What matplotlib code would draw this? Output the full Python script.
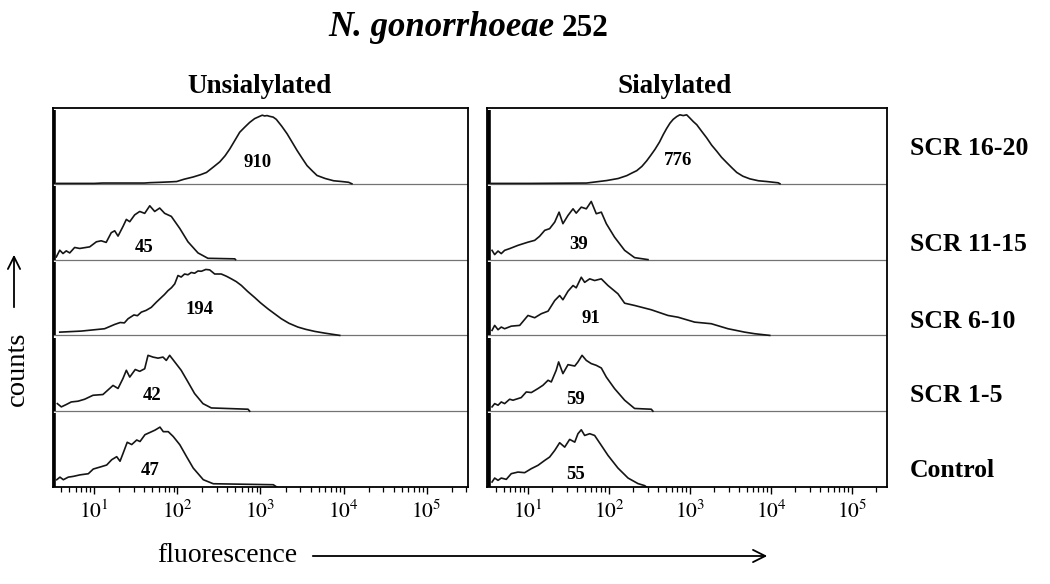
import numpy as np
import matplotlib
matplotlib.use("Agg")
import matplotlib.pyplot as plt
import matplotlib.transforms as mtransforms
from matplotlib.ticker import FixedLocator, LogLocator, FuncFormatter, NullFormatter
from matplotlib.patches import FancyArrowPatch

plt.rcParams["font.family"] = ["Liberation Serif", "DejaVu Serif"]
plt.rcParams["mathtext.fontset"] = "stix"

row_labels = ["SCR 16-20", "SCR 11-15", "SCR 6-10", "SCR 1-5", "Control"]
panel_titles = ["Unsialylated", "Sialylated"]
mfi_unsialylated = ["910", "45", "194", "42", "47"]
mfi_sialylated = ["776", "39", "91", "59", "55"]

# pile-up in the first channel, % of row height
spike_unsialylated = [97, 97, 97, 97, 97]
spike_sialylated = [97, 97, 97, 97, 97]
SPIKE_X = 3.3

# --- Unsialylated histograms: fluorescence, counts (% of row height) ---
u_scr1620_x = [3.5, 10, 12.6, 20, 40, 47, 63, 80, 98, 120, 155, 190, 224, 270, 324, 375, 427, 490, 562, 650,
               741, 850, 977, 1050, 1120, 1200, 1288, 1420, 1549, 1800, 2089, 2400, 2754, 3200, 3631, 4200,
               4786, 6000, 7586, 9500, 11482, 12589]
u_scr1620_y = [0.5, 0.5, 1, 1, 1, 1.5, 2, 2.5, 3, 6, 9, 12, 15, 22, 29, 37, 46, 57, 68, 75,
               81, 86, 89, 90.5, 89.5, 90, 89, 88, 85, 76, 66, 55, 44, 33, 24, 17,
               11, 7, 4, 3, 2, 0]

u_scr1115_x = [3.49, 3.84, 4.2, 4.6, 5.06, 5.8, 6.67, 8.8, 10.6, 12.1, 13.9, 16.0, 17.6, 19.3, 22.1, 24.3,
               26.7, 30.6, 35.2, 40.4, 46.5, 53.3, 61.2, 70.3, 84.5, 107, 134, 177, 233, 490, 500]
u_scr1115_y = [3.5, 12.4, 8, 11.5, 8.8, 16, 14.7, 16.8, 23.5, 24.8, 22.7, 35.5, 38, 31, 43.5, 53,
               50, 59, 63.5, 61, 71, 63.5, 68, 61, 57, 41, 23.5, 8.8, 1.7, 1, 0]

u_scr610_x = [3.84, 6.98, 13.3, 17.6, 20.5, 23, 25.5, 30, 33, 36.8, 42, 48.5, 56, 64, 70, 77, 85, 92.9,
              101.6, 111, 122, 134, 147, 161, 177, 194, 220, 245, 281, 337, 390, 446, 510, 587, 700,
              851, 1000, 1230, 1500, 1778, 2200, 2818, 3500, 4487, 5929, 8974]
u_scr610_y = [4.3, 5.7, 8.8, 14.5, 17, 16.5, 22, 27, 26, 30.7, 33, 37, 44, 50, 54, 59, 63, 68,
              79, 77, 81, 80, 83, 82, 85, 84.6, 87, 86.4, 81, 81, 78, 74.6, 71, 66, 58,
              50, 43, 35, 28, 22, 16, 11, 8, 5.3, 3, 0]

u_scr15_x = [3.59, 4.01, 4.6, 5.28, 6.37, 7.66, 9.64, 12.7, 16.8, 19.3, 22.1, 24.3, 26.7, 31.1, 35.2,
             40.4, 44.3, 50.8, 58.5, 67.1, 73.5, 80.7, 92.9, 111, 134, 161, 203, 256, 708, 741]
u_scr15_y = [10, 5.7, 8.8, 12.2, 13.2, 15.8, 21, 22, 34, 30, 43, 54, 45, 55, 52.6,
             56, 73.7, 71.4, 70, 71.4, 67, 73.7, 65, 54, 38.6, 23.3, 10, 4.3, 2.6, 0]

u_control_x = [3.53, 3.86, 4.24, 4.86, 5.58, 6.73, 8.47, 9.72, 12.3, 14.1, 16.2, 18.6, 20.4, 22.3, 24.9,
               28.2, 32.4, 35.5, 40.7, 46.8, 53.7, 61.7, 67.6, 77.6, 89.1, 107, 129, 155, 205, 270,
               1426, 1567]
u_control_y = [9.6, 13, 9.6, 13, 14, 16, 17.5, 23.7, 27, 29, 36, 40, 34, 45, 59,
               56, 62, 60, 69, 72, 75, 79, 73, 73, 66.6, 55.7, 40, 25, 9.6, 4.3,
               3, 0]

# --- Sialylated histograms ---
s_scr1620_x = [3.5, 10.6, 52.9, 93.8, 130, 166, 190, 220, 255, 292, 330, 370, 420, 468, 515, 566, 620,
               686, 750, 826, 910, 1000, 1100, 1211, 1400, 1607, 1850, 2138, 2450, 2838, 3300, 3776,
               4500, 5495, 7000, 8851, 12300, 12900]
s_scr1620_y = [0.5, 0.5, 1, 4.3, 7, 10.8, 14, 17.3, 23, 30.3, 38, 45.5, 55, 65, 73, 80, 85,
               88.7, 91, 90, 91, 86.6, 82, 78, 69, 60.6, 51, 43, 35, 28, 21, 15,
               10, 6.5, 4, 3, 1.3, 0]

s_scr1115_x = [3.6, 3.88, 4.27, 4.68, 5.15, 5.94, 7.53, 10, 12.1, 13.9, 16.1, 18.5, 21.4, 24.2, 27,
               31.2, 36, 39.4, 45.5, 52.5, 60.4, 69.7, 80.4, 92.7, 117, 156, 207, 303]
s_scr1115_y = [12.2, 6.6, 11.3, 7.9, 12.2, 14.5, 18.8, 23, 25.4, 30.7, 38.6, 40.8, 49.5, 62.6, 47.4,
               58.3, 67, 61.3, 69.2, 67, 76.7, 60.5, 62.6, 47.4, 29.7, 12.2, 2.6, 0]

s_scr610_x = [3.6, 3.88, 4.27, 4.68, 5.15, 6.22, 7.9, 10, 12.1, 14.6, 17.7, 21.4, 24.6, 27, 31.2, 36,
              39.4, 45.5, 50.1, 57.8, 66.5, 80.4, 97.2, 129, 156, 207, 333, 535, 711, 1143, 1832,
              2944, 4732, 6295, 9638]
s_scr610_y = [6.6, 13.2, 7.5, 11, 8.8, 12.2, 13.2, 26.3, 23.3, 28.6, 32, 46, 52.6, 47, 58.3, 65.8,
              62.8, 76.7, 70, 74.6, 72.4, 74.6, 65.8, 54.9, 42.5, 39.5, 33.8, 26.3, 24, 17.5, 15.4,
              8.8, 4.3, 2.2, 0]

s_scr15_x = [3.6, 3.88, 4.27, 4.68, 5.15, 5.94, 6.53, 8.26, 9.53, 11, 13.3, 15.3, 17.7, 19.4, 22.3,
             23.9, 27, 31.2, 37.8, 41.4, 46.5, 52.5, 60.4, 69.7, 80.4, 92.7, 117, 156, 207, 333, 349]
s_scr15_y = [5.7, 10, 7.9, 12.2, 10, 15.8, 14.5, 18, 25.4, 24.6, 29.9, 34.2, 40.8, 38.6, 54,
             65, 49.6, 61.4, 59.6, 65, 73.7, 67, 62.8, 60.5, 57, 45, 29.9, 14.5, 3.6, 2.6, 0]

s_control_x = [3.6, 3.88, 4.27, 4.68, 5.4, 6.22, 7.53, 9.1, 11, 13.3, 16.1, 18.5, 21.4, 24.6, 28.4,
               32.7, 37.8, 41.4, 45.5, 50.1, 57.8, 66.5, 80.4, 97.2, 129, 172, 228, 276, 290]
s_control_y = [6.6, 11.8, 8.8, 11.8, 10.1, 17.6, 19.7, 18.9, 24.2, 28.6, 35.1, 39.5, 48.3, 58.4, 52.6,
               62.8, 59.2, 70.3, 75.5, 68, 70.3, 68, 54.9, 41.7, 25, 11.8, 4.5, 1.8, 0]

# where the MFI numbers sit (fluorescence, baseline height within the row)
mfi_pos_x_u = [912, 40, 186, 49, 47]
mfi_pos_y_u = [0.224, 0.10, 0.276, 0.145, 0.158]
mfi_pos_x_s = [721, 42, 60, 38.5, 38.5]
mfi_pos_y_s = [0.25, 0.134, 0.16, 0.10, 0.105]
row_label_y = [0.38, 0.11, 0.10, 0.12, 0.13]

W, H = 1050, 584
fig = plt.figure(figsize=(W / 100, H / 100), dpi=100)


def px_axes(x0, x1, y0, y1):
    return fig.add_axes([x0 / W, 1 - y1 / H, (x1 - x0) / W, (y1 - y0) / H])


def draw_panel(ax, xs, ys, spikes, mfi, mfi_x, mfi_y, xlim):
    n = len(xs)
    ax.set_xscale("log")
    ax.set_xlim(*xlim)
    ax.set_ylim(0, n)
    for r in range(n):
        base = n - 1 - r
        if base > 0:
            ax.hlines(base, xlim[0], xlim[1], color="0.45", lw=0.9)
        ax.vlines(SPIKE_X, base, base + spikes[r] / 100, color="black", lw=2.6)
        ax.plot(xs[r], base + np.array(ys[r]) / 100, color="#151515", lw=1.2)
        ax.text(mfi_x[r], base + mfi_y[r], mfi[r], ha="center", va="baseline",
                fontsize=13.5, fontweight="bold")
    ax.xaxis.set_major_locator(FixedLocator([1e1, 1e2, 1e3, 1e4, 1e5]))
    ax.xaxis.set_major_formatter(FuncFormatter(lambda v, p: r"$10^{%d}$" % round(np.log10(v))))
    ax.xaxis.set_minor_locator(LogLocator(base=10, subs=np.arange(2, 10)))
    ax.xaxis.set_minor_formatter(NullFormatter())
    ax.tick_params(axis="x", which="major", direction="out", length=5, width=1, labelsize=15.5, pad=5)
    ax.tick_params(axis="x", which="minor", direction="out", length=3.5, width=0.9)
    ax.set_yticks([])
    for s in ax.spines.values():
        s.set_linewidth(1.3)


ax_u = px_axes(52.7, 468, 108, 487)
ax_s = px_axes(486.5, 887, 108, 487)

draw_panel(ax_u,
           [u_scr1620_x, u_scr1115_x, u_scr610_x, u_scr15_x, u_control_x],
           [u_scr1620_y, u_scr1115_y, u_scr610_y, u_scr15_y, u_control_y],
           spike_unsialylated, mfi_unsialylated, mfi_pos_x_u, mfi_pos_y_u,
           (10 ** 0.4994, 10 ** 5.497))
draw_panel(ax_s,
           [s_scr1620_x, s_scr1115_x, s_scr610_x, s_scr15_x, s_control_x],
           [s_scr1620_y, s_scr1115_y, s_scr610_y, s_scr15_y, s_control_y],
           spike_sialylated, mfi_sialylated, mfi_pos_x_s, mfi_pos_y_s,
           (10 ** 0.488, 10 ** 5.432))

# row names on the right
trans = mtransforms.blended_transform_factory(ax_s.transAxes, ax_s.transData)
for r, lab in enumerate(row_labels):
    ax_s.text(1.057, len(row_labels) - 1 - r + row_label_y[r], lab, transform=trans,
              ha="left", va="baseline", fontsize=18.5, fontweight="bold")

# titles
fig.text(554 / W, 1 - 36 / H, "N. gonorrhoeae", ha="right", va="baseline",
         fontsize=25, fontweight="bold", fontstyle="italic")
fig.text(562 / W, 1 - 36 / H, "252", ha="left", va="baseline", fontsize=22.5, fontweight="bold")
fig.text(260 / W, 1 - 93 / H, panel_titles[0], ha="center", va="baseline",
         fontsize=19.5, fontweight="bold")
fig.text(675 / W, 1 - 93 / H, panel_titles[1], ha="center", va="baseline",
         fontsize=19.5, fontweight="bold")

# axis captions with arrows
fig.text(17 / W, 1 - 369 / H, "counts", rotation=90, ha="center", va="center", fontsize=20.5)
fig.add_artist(FancyArrowPatch((14 / W, 1 - 310 / H), (14 / W, 1 - 252 / H), transform=fig.transFigure,
                               arrowstyle="->", mutation_scale=22, lw=1.3, color="black"))
fig.text(227 / W, 1 - 555 / H, "fluorescence", ha="center", va="center", fontsize=20)
fig.add_artist(FancyArrowPatch((310 / W, 1 - 556 / H), (770 / W, 1 - 556 / H), transform=fig.transFigure,
                               arrowstyle="->", mutation_scale=22, lw=1.3, color="black"))

fig.savefig("out.png", dpi=100)
